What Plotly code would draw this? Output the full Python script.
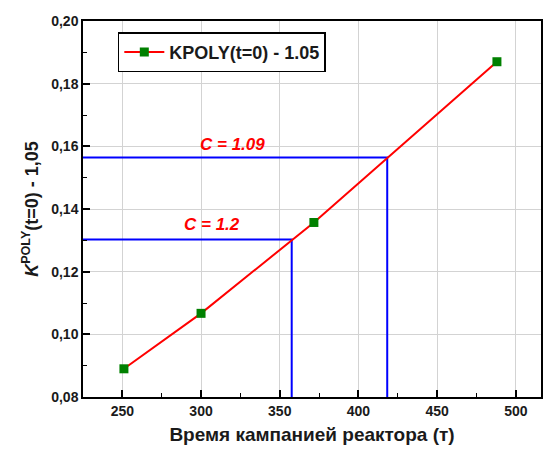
import plotly.graph_objects as go

# Data
time_x = [251, 300, 371.7, 488]
kpoly_y = [0.089, 0.1067, 0.1357, 0.1870]
series_name = "KPOLY(t=0) - 1.05"

c_labels = ["C = 1.2", "C = 1.09"]
c_x = [357.6, 418.3]
c_y = [0.1303, 0.1564]
label_x = [307, 320]
label_y = [0.1349, 0.1606]

x_range = [225, 516]
y_range = [0.08, 0.20]
x_ticks = [250, 300, 350, 400, 450, 500]
y_ticks = [0.08, 0.10, 0.12, 0.14, 0.16, 0.18, 0.20]

FONT = "Liberation Sans, Arial, sans-serif"
TXT = "#1a1a1a"

fig = go.Figure()

# blue guide lines
for cx, cy in zip(c_x, c_y):
    fig.add_trace(go.Scatter(
        x=[x_range[0], cx, cx], y=[cy, cy, y_range[0]],
        mode="lines", line=dict(color="#0000ff", width=2),
        showlegend=False, hoverinfo="skip"))

fig.add_trace(go.Scatter(
    x=time_x, y=kpoly_y, name="<b>%s</b>" % series_name, mode="lines+markers",
    line=dict(color="#ff0000", width=2),
    marker=dict(symbol="square", size=9, color="#008000"),
))

for lbl, lx, ly in zip(c_labels, label_x, label_y):
    fig.add_annotation(
        x=lx, y=ly, xref="x", yref="y", text="<b><i>%s</i></b>" % lbl,
        showarrow=False, yanchor="middle", xanchor="center",
        font=dict(family=FONT, size=17, color="#ff0000"))

axis_common = dict(
    showline=True, linecolor="black", linewidth=1.5, mirror=True,
    showgrid=True, gridcolor="#d3d3d3", gridwidth=1,
    ticks="inside", ticklen=7, tickwidth=1.5, tickcolor="black",
    zeroline=False,
    tickfont=dict(family=FONT, size=14, color=TXT, weight="bold"),
)

fig.update_xaxes(
    range=x_range, tickvals=x_ticks,
    minor=dict(ticks="inside", ticklen=4, tickcolor="black", tickwidth=1, dtick=25, showgrid=False),
    title=dict(text="<b>Время кампанией реактора (т)</b>", font=dict(family=FONT, size=19, color=TXT), standoff=10),
    **axis_common)
fig.update_yaxes(
    range=y_range, tickvals=y_ticks, tickformat=".2f",
    minor=dict(ticks="inside", ticklen=4, tickcolor="black", tickwidth=1, dtick=0.01, showgrid=False),
    title=dict(text="<b><i>K</i><sup>POLY</sup>(t=0) - 1,05</b>", font=dict(family=FONT, size=18, color=TXT), standoff=8),
    **axis_common)

fig.update_layout(
    width=545, height=454,
    margin=dict(l=83, r=2, t=21, b=57),
    plot_bgcolor="white", paper_bgcolor="white",
    separators=",.",
    showlegend=True,
    legend=dict(
        x=0.076, y=0.97, xanchor="left", yanchor="top",
        bgcolor="white", bordercolor="black", borderwidth=1.5,
        font=dict(family=FONT, size=18, color=TXT),
        itemwidth=40,
    ),
)

fig.write_html("out.html")
